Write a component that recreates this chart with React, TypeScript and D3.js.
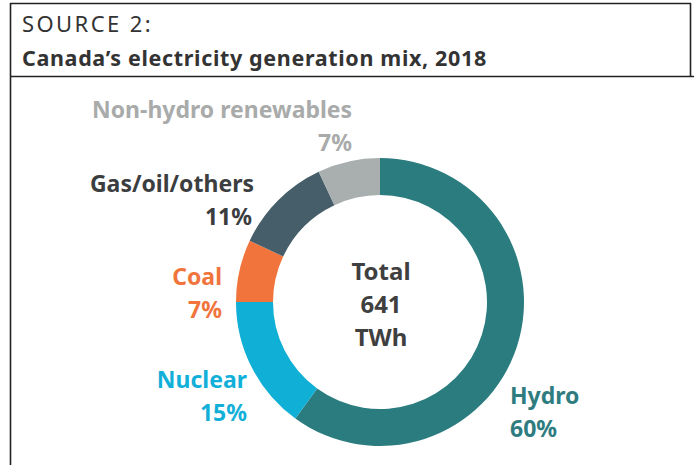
import React, { useEffect, useRef } from "react";
import * as d3 from "d3";

// generation mix, Canada 2018 (share of total, %)
const sources = ["Hydro", "Nuclear", "Coal", "Gas/oil/others", "Non-hydro renewables"];
const shares = [60, 15, 7, 11, 7];
const colors = ["#2b7c7f", "#10afd6", "#f0743b", "#465e6a", "#a8afae"];
const labelColors = ["#2e7c80", "#12b0d9", "#f0743b", "#3b3d3f", "#a9abab"];
const centerLines = ["Total", "641", "TWh"];

// label placement (anchor point, text-anchor) per source
const labelPos: { x: number; y: number; anchor: string; pctX?: number }[] = [
  { x: 510, y: 404, anchor: "start" },
  { x: 247, y: 388, anchor: "end" },
  { x: 222, y: 285, anchor: "end" },
  { x: 254, y: 192, anchor: "end", pctX: 252 },
  { x: 92, y: 118, anchor: "start", pctX: 352 },
];

const W = 694;
const H = 465;
const FONT = "'Noto Sans', sans-serif";

const App: React.FC = () => {
  const svgRef = useRef<SVGSVGElement>(null);

  useEffect(() => {
    if (!svgRef.current) return;
    const svg = d3.select(svgRef.current);
    svg.selectAll("*").remove();

    // frame
    svg
      .append("line")
      .attr("x1", 10.5).attr("x2", 10.5)
      .attr("y1", 3).attr("y2", H)
      .attr("stroke", "#222").attr("stroke-width", 1.6);
    svg
      .append("line")
      .attr("x1", 10).attr("x2", 691)
      .attr("y1", 3.5).attr("y2", 3.5)
      .attr("stroke", "#222").attr("stroke-width", 1.6);
    svg
      .append("line")
      .attr("x1", 10).attr("x2", W)
      .attr("y1", 76.5).attr("y2", 76.5)
      .attr("stroke", "#222").attr("stroke-width", 1.6);
    svg
      .append("line")
      .attr("x1", 690.5).attr("x2", 690.5)
      .attr("y1", 3).attr("y2", 77)
      .attr("stroke", "#222").attr("stroke-width", 1.6);

    // header
    svg
      .append("text")
      .attr("x", 22).attr("y", 32)
      .style("font-family", FONT)
      .style("font-size", "22px")
      .style("letter-spacing", "2.4px")
      .style("fill", "#333")
      .text("SOURCE 2:");
    svg
      .append("text")
      .attr("x", 22).attr("y", 66)
      .style("font-family", FONT)
      .style("font-size", "21.5px")
      .style("font-weight", 700)
      .style("letter-spacing", "0.65px")
      .style("fill", "#333")
      .text("Canada\u2019s electricity generation mix, 2018");

    // donut
    const cx = 380;
    const cy = 302;
    const g = svg.append("g").attr("transform", `translate(${cx}, ${cy})`);
    const pie = d3.pie<number>().sort(null).value((d) => d);
    const arc = d3.arc<d3.PieArcDatum<number>>().innerRadius(107).outerRadius(144);

    g.selectAll("path")
      .data(pie(shares))
      .enter()
      .append("path")
      .attr("d", arc)
      .attr("fill", (_, i) => colors[i]);

    // centre text
    centerLines.forEach((t, i) => {
      g.append("text")
        .attr("x", 1)
        .attr("y", -22 + i * 33)
        .attr("text-anchor", "middle")
        .style("font-family", FONT)
        .style("font-size", "24px")
        .style("font-weight", 700)
        .style("fill", "#3f3f3f")
        .text(t);
    });

    // labels
    sources.forEach((s, i) => {
      const p = labelPos[i];
      svg
        .append("text")
        .attr("x", p.x)
        .attr("y", p.y)
        .attr("text-anchor", p.anchor)
        .style("font-family", FONT)
        .style("font-size", "23px")
        .style("font-weight", 700)
        .style("fill", labelColors[i])
        .text(s);
      svg
        .append("text")
        .attr("x", p.pctX ?? p.x)
        .attr("y", p.y + 33)
        .attr("text-anchor", p.pctX ? "end" : p.anchor)
        .style("font-family", FONT)
        .style("font-size", "23px")
        .style("font-weight", 700)
        .style("fill", labelColors[i])
        .text(`${shares[i]}%`);
    });
  }, []);

  return (
    <div style={{ position: "absolute", left: 0, top: 0, background: "#fff" }}>
      <svg ref={svgRef} width={W} height={H} style={{ display: "block" }} />
    </div>
  );
};

export default App;
